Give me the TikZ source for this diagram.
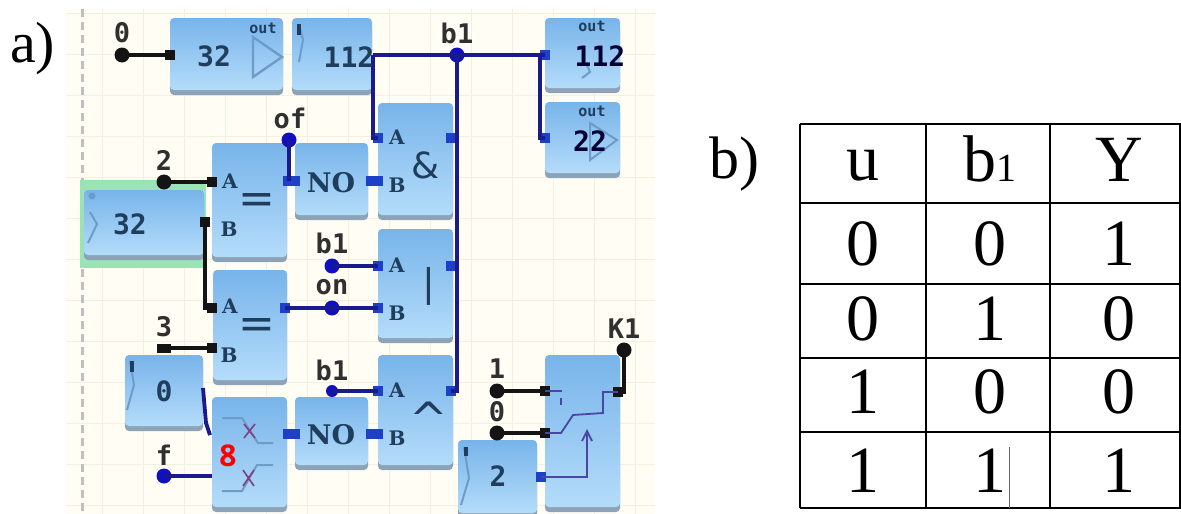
\documentclass[tikz,border=0pt]{standalone}
\usepackage{fontspec}
\setmainfont{Liberation Serif}
\newfontfamily\monof{DejaVu Sans Mono}
\newfontfamily\serf{DejaVu Serif}
\newfontfamily\sanf{DejaVu Sans}
\newfontfamily\redf{Open Sans}
\definecolor{wireblue}{HTML}{1A1A8C}
\definecolor{pinblue}{HTML}{1E3FC8}
\definecolor{dotblue}{HTML}{1010C0}
\definecolor{wireblack}{HTML}{141414}
\definecolor{blocktop}{HTML}{78B4EA}
\definecolor{blockbot}{HTML}{B4DCFA}
\definecolor{blockedge}{HTML}{8CA3B8}
\definecolor{glyphb}{HTML}{6E9CC8}
\definecolor{inktext}{HTML}{1F3D5C}
\definecolor{labeltext}{HTML}{303030}
\definecolor{gridc}{HTML}{F3F0E2}
\definecolor{paper}{HTML}{FFFDF4}
\tikzset{
  x=1pt,y=-1pt,
  wireb/.style={draw=wireblue,line width=3.8pt},
  wirek/.style={draw=wireblack,line width=4pt},
  pinb/.style={fill=pinblue,inner sep=0pt,minimum width=10pt,minimum height=10pt},
  pinw/.style={fill=pinblue,inner sep=0pt,minimum width=17pt,minimum height=10pt},
  pink/.style={fill=wireblack,inner sep=0pt,minimum width=10pt,minimum height=10pt},
  dotb/.style={circle,fill=dotblue,inner sep=0pt,minimum size=15pt},
  dotk/.style={circle,fill=wireblack,inner sep=0pt,minimum size=15pt},
  blockbox/.style={rounded corners=4pt,top color=blocktop,bottom color=blockbot,inner sep=0pt},
  lab/.style={inner sep=0pt,text=labeltext,font=\monof\bfseries\fontsize{27}{27}\selectfont},
  ink/.style={inner sep=0pt,text=inktext,font=\monof\bfseries\fontsize{28}{28}\selectfont},
  outlab/.style={inner sep=0pt,text=inktext,font=\monof\bfseries\fontsize{15}{15}\selectfont},
  port/.style={inner sep=0pt,text=inktext,font=\serf\bfseries\fontsize{20}{20}\selectfont},
  notlab/.style={inner sep=0pt,text=inktext,font=\serf\bfseries\fontsize{27}{27}\selectfont},
  opl/.style={inner sep=0pt,text=inktext,font=\sanf\fontsize{#1}{#1}\selectfont},
  glyph/.style={draw=glyphb,line width=2pt},
  thinb/.style={draw=#1,line width=1.8pt},
  tline/.style={draw=black,line width=1.5pt},
  big/.style={inner sep=0pt,anchor=base,font=\fontsize{66}{66}\selectfont}
}
\newcommand{\blk}[5]{%
  \fill[blockedge,rounded corners=4pt] (#2,#3+6) rectangle (#4,#5);
  \node[blockbox,minimum width={#4-#2},minimum height={#5-#3-5}] (#1) at ({(#2+#4)/2},{(#3+#5-5)/2}) {};}
\begin{document}
\begin{tikzpicture}
\useasboundingbox (0,0) rectangle (1181,514);
\fill[white] (0,0) rectangle (1181,514);
% paper and grid
\fill[paper] (66,9) rectangle (655,514);
\foreach \gx in {102,143,184,225,266,307,348,389,430,471,512,553,594,635}
  \draw[gridc,line width=1pt] (\gx,9) -- (\gx,514);
\foreach \gy in {13,54,95,136,177,218,259,300,341,382,423,464,505}
  \draw[gridc,line width=1pt] (66,\gy) -- (655,\gy);
\draw[black!25,line width=3pt,dash pattern=on 8pt off 5pt] (82,9) -- (82,514);
% green selection
\fill[green!45!teal!40!white] (80,180) rectangle (206,268);
% blocks
\blk{bout}{170}{18}{283}{95}
\blk{bin}{292}{18}{372}{95}
\blk{boutA}{545}{18}{620}{93}
\blk{boutB}{545}{102}{620}{178}
\blk{band}{378}{103}{453}{220}
\blk{beqa}{212}{143}{287}{262}
\blk{bnoa}{295}{143}{368}{220}
\blk{binv}{84}{190}{204}{260}
\blk{bor}{378}{229}{453}{343}
\blk{beqb}{213}{270}{287}{385}
\blk{bxor}{378}{355}{453}{470}
\blk{bnob}{295}{397}{368}{470}
\blk{bmux}{212}{397}{287}{512}
\blk{bzero}{125}{355}{203}{431}
\blk{btwo}{458}{440}{537}{518}
\blk{bsw}{545}{355}{620}{512}
% pins and dots
\node[dotk] (d0) at (122,55) {};
\node[pink] (p0) at (170,55) {};
\node[dotb] (db1) at (457,55) {};
\coordinate (c112) at (373,55);
\coordinate (cdrop) at (540,55);
\node[pinb] (pA) at (378,138) {};
\node[pinb] (pOutA) at (545,55) {};
\node[pinb] (pOutB) at (545,138) {};
\node[pinb] (qand) at (451,138) {};
\node[pinb] (qor) at (451,266) {};
\node[pinb] (qxor) at (451,391) {};
\node[dotb] (dof) at (289,140) {};
\node[pinw] (pnoa) at (291,181) {};
\node[pinw] (pnoaout) at (374,181) {};
\node[dotk] (d2) at (164,182) {};
\node[pink] (peqA) at (212,182) {};
\node[pink] (peqB) at (205,222) {};
\node[pink] (peqC) at (212,308) {};
\node[dotk,minimum width=14pt,minimum height=9pt,rectangle] (d3) at (164,348) {};
\node[pink] (peqD) at (212,348) {};
\node[dotb] (dbo) at (332,266) {};
\node[pinb] (pbo) at (378,266) {};
\node[pinb] (pon) at (285,308) {};
\node[dotb] (don) at (332,308) {};
\node[pinb] (pbon) at (378,308) {};
\node[dotb,minimum size=12pt] (dbx) at (332,391) {};
\node[pinb] (pbx) at (378,391) {};
\node[pinw] (pnobin) at (291,434) {};
\node[pinw] (pnobout) at (374,434) {};
\coordinate (czero) at (203,388);
\coordinate (czmid) at (206,423);
\coordinate (cmux) at (210,435);
\node[dotb] (df) at (164,476) {};
\coordinate (cf) at (212,476);
\node[dotk] (d1) at (497,391) {};
\node[pink] (ps1) at (545,391) {};
\node[dotk] (d0b) at (497,433) {};
\node[pink] (ps0) at (545,433) {};
\node[pinb] (ptwo) at (541,477) {};
\node[dotk] (dK) at (624,350) {};
\node[pink] (psK) at (618,392) {};
% wires
\draw[wirek] (d0.center) -- (p0.center);
\draw[wireb] (c112) -- (db1.center) -- (pOutA.center);
\draw[wireb] (c112) |- (pA.center);
\draw[wireb] (cdrop) |- (pOutB.center);
\draw[wireb] (db1.center) |- (qxor.center);
\draw[wireb] (dof.center) -- (dof.center |- pnoa.center);
\draw[wirek] (d2.center) -- (peqA.center);
\draw[wirek] (peqB.center) |- (peqC.center);
\draw[wirek] (d3.center) -- (peqD.center);
\draw[wireb] (dbo.center) -- (pbo.center);
\draw[wireb] (pon.center) -- (pbon.center);
\draw[wireb] (dbx.center) -- (pbx.center);
\draw[wireb] (czero) -- (czmid) -- (cmux);
\draw[wireb] (df.center) -- (cf);
\draw[wirek] (d1.center) -- (ps1.center);
\draw[wirek] (d0b.center) -- (ps0.center);
\draw[wirek] (dK.center) |- (psK.center);
% block symbols
\draw[draw=glyphb,line width=2.4pt] (253,37) -- (282,57) -- (253,77) -- cycle;
\draw[glyph] (299,24) -- (303,40) -- (299,62);
\fill[inktext] (297,24) rectangle (301,35);
\draw[glyph] (90,212) -- (97,224) -- (88,243);
\fill[glyphb] (92,196) circle (3.5pt);
\draw[glyph] (130,361) -- (134,385) -- (127,410);
\fill[inktext] (130,361) rectangle (134,372);
\draw[glyph] (464,447) -- (469,478) -- (461,505);
\fill[inktext] (464,447) rectangle (468,456);
\draw[glyph] (586,63) -- (590,72) -- (582,78);
\draw[glyph] (590,123) -- (617,140) -- (590,160) -- cycle;
% mux symbol
\draw[glyph] (222,418) -- (242,418) -- (258,443) -- (273,443);
\draw[glyph] (222,491) -- (242,491) -- (257,465) -- (273,465);
\draw[draw=violet!50!gray,line width=1.6pt] (244,424) -- (255,438) (255,424) -- (244,438);
\draw[draw=violet!50!gray,line width=1.6pt] (243,470) -- (254,486) (254,470) -- (243,486);
% switch symbol
\draw[thinb=wireblue!80!white] (ptwo.center) -- (587,477) -- (587,434);
\draw[thinb=wireblue!80!white] (582,441) -- (587,431) -- (592,441);
\draw[thinb=wireblue!80!white] (ps1.center) -- (562,391);
\draw[thinb=wireblue!80!white] (561,398) -- (561,405);
\draw[thinb=wireblue!80!white] (ps0.center) -- (561,433) -- (573,415) -- (603,413) -- (603,392) -- (psK.center);
% block text
\node[ink] (t32) at (214,56) {32};
\node[outlab] (to1) at (263,28) {out};
\node[ink] (t112) at (349,57) {112};
\node[ink,text=black!80!blue] (t112b) at (600,56) {112};
\node[outlab] (to2) at (592,26) {out};
\node[outlab] (to3) at (592,111) {out};
\node[ink,text=black!80!blue] (t22) at (590,141) {22};
\node[ink] (tinv) at (130,224) {32};
\node[ink] (tz) at (164,391) {0};
\node[ink] (t2) at (498,476) {2};
\node[port] (ta1) at (230,181) {A};
\node[port] (tb1) at (229,229) {B};
\node[port] (ta2) at (230,306) {A};
\node[port] (tb2) at (229,355) {B};
\node[port] (ta3) at (397,137) {A};
\node[port] (tb3) at (397,185) {B};
\node[port] (ta4) at (397,265) {A};
\node[port] (tb4) at (397,313) {B};
\node[port] (ta5) at (397,390) {A};
\node[port] (tb5) at (397,438) {B};
\node[opl=44] (teq1) at (257,204) {=};
\node[opl=44] (teq2) at (257,329) {=};
\node[opl=36] (tamp) at (426,165) {\&};
\node[opl=38] (tor) at (429,286) {|};
\node[opl=46] (txor) at (429,419) {\^{}};
\node[notlab] (tno1) at (331,183) {NO};
\node[notlab] (tno2) at (331,435) {NO};
\node[inner sep=0pt,text=red,font=\redf\bfseries\fontsize{30}{30}\selectfont] (t8) at (228,456) {8};
% net labels
\node[lab] (l0) at (122,33) {0};
\node[lab] (lb1) at (457,33) {b1};
\node[lab] (lof) at (290,118) {of};
\node[lab] (l2) at (164,160) {2};
\node[lab] (lb2) at (332,243) {b1};
\node[lab] (lon) at (332,287) {on};
\node[lab] (l3) at (164,327) {3};
\node[lab] (lb3) at (332,370) {b1};
\node[lab] (lf) at (164,455) {f};
\node[lab] (l1) at (497,369) {1};
\node[lab] (l0b) at (497,412) {0};
\node[lab] (lK) at (624,329) {K1};
% panel letters
\node[inner sep=0pt,anchor=base west,font=\fontsize{58}{58}\selectfont] (pa) at (10,62) {a)};
\node[inner sep=0pt,anchor=base west,font=\fontsize{60}{60}\selectfont] (pb) at (709,178) {b)};
% table
\foreach \ty in {124,203,284,358,432,508} \draw[tline] (800,\ty) -- (1181,\ty);
\foreach \tx in {800,926,1050} \draw[tline] (\tx,124) -- (\tx,508);
\draw[tline] (1180,124) -- (1180,508);
\draw[draw=black!60,line width=1pt] (1009,447) -- (1009,508);
\node[big] (hu) at (863,180) {u};
\node[big] (hb) at (990,181) {b\fontsize{40}{40}\selectfont 1};
\node[big] (hy) at (1119,181) {Y};
\node[big] (c11) at (863,265) {0};
\node[big] (c12) at (990,265) {0};
\node[big] (c13) at (1119,265) {1};
\node[big] (c21) at (863,340) {0};
\node[big] (c22) at (990,340) {1};
\node[big] (c23) at (1119,340) {0};
\node[big] (c31) at (863,413) {1};
\node[big] (c32) at (990,413) {0};
\node[big] (c33) at (1119,413) {0};
\node[big] (c41) at (863,492) {1};
\node[big] (c42) at (990,492) {1};
\node[big] (c43) at (1119,492) {1};
\end{tikzpicture}
\end{document}
